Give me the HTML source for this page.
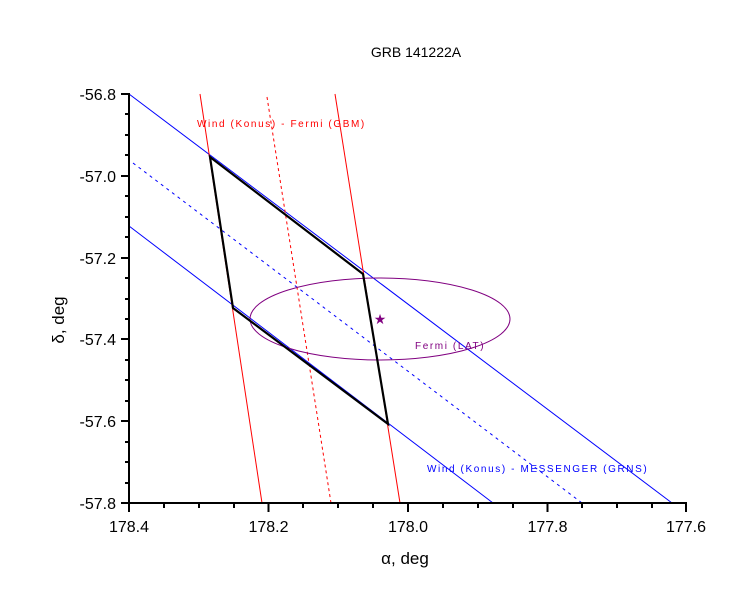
<!DOCTYPE html>
<html><head><meta charset="utf-8"><style>body{margin:0;background:#fff}svg{display:block}text{font-family:"Liberation Sans",sans-serif}</style></head><body>
<svg width="750" height="611" xmlns="http://www.w3.org/2000/svg">
<rect width="750" height="611" fill="#fff"/>
<text x="416" y="57" font-size="14" text-anchor="middle">GRB 141222A</text>
<g fill="none" stroke-width="1">
<line x1="129" y1="94" x2="672" y2="503" stroke="#0000ff"/>
<line x1="129" y1="226" x2="493" y2="503" stroke="#0000ff"/>
<line x1="133" y1="163" x2="582" y2="503" stroke="#0000ff" stroke-dasharray="3,4"/>
<line x1="200" y1="94" x2="262" y2="503" stroke="#ff0000"/>
<line x1="267" y1="97" x2="331" y2="503" stroke="#ff0000" stroke-dasharray="3,3"/>
<line x1="335" y1="94" x2="400" y2="503" stroke="#ff0000"/>
<ellipse cx="380" cy="319" rx="130" ry="41" stroke="#800080"/>
<polygon points="210,157 363,274 388,424 233,308" stroke="#000" stroke-width="2.2"/>
</g>
<text x="380" y="324" font-size="14" fill="#800080" text-anchor="middle">★</text>
<text x="197" y="127" font-size="10" fill="#ff0000" letter-spacing="1.6">Wind (Konus) - Fermi (GBM)</text>
<text x="415" y="349" font-size="10" fill="#800080" letter-spacing="1.6">Fermi (LAT)</text>
<text x="427" y="472" font-size="10" fill="#0000ff" letter-spacing="1.6">Wind (Konus) - MESSENGER (GRNS)</text>
<g stroke="#000" stroke-width="2">
<line x1="129" y1="93" x2="129" y2="504"/>
<line x1="128" y1="503" x2="687" y2="503"/>
</g>
<g stroke="#000" stroke-width="2">
<line x1="121" y1="94" x2="129" y2="94"/><line x1="121" y1="176" x2="129" y2="176"/><line x1="121" y1="258" x2="129" y2="258"/><line x1="121" y1="339" x2="129" y2="339"/><line x1="121" y1="421" x2="129" y2="421"/><line x1="121" y1="503" x2="129" y2="503"/>
<line x1="125" y1="114" x2="129" y2="114"/><line x1="125" y1="135" x2="129" y2="135"/><line x1="125" y1="155" x2="129" y2="155"/>
<line x1="125" y1="196" x2="129" y2="196"/><line x1="125" y1="217" x2="129" y2="217"/><line x1="125" y1="237" x2="129" y2="237"/>
<line x1="125" y1="278" x2="129" y2="278"/><line x1="125" y1="299" x2="129" y2="299"/><line x1="125" y1="319" x2="129" y2="319"/>
<line x1="125" y1="360" x2="129" y2="360"/><line x1="125" y1="380" x2="129" y2="380"/><line x1="125" y1="401" x2="129" y2="401"/>
<line x1="125" y1="442" x2="129" y2="442"/><line x1="125" y1="462" x2="129" y2="462"/><line x1="125" y1="483" x2="129" y2="483"/>
<line x1="129" y1="503" x2="129" y2="512"/><line x1="268.5" y1="503" x2="268.5" y2="512"/><line x1="408" y1="503" x2="408" y2="512"/><line x1="547.5" y1="503" x2="547.5" y2="512"/><line x1="686" y1="503" x2="686" y2="512"/>
<line x1="164" y1="503" x2="164" y2="508"/><line x1="199" y1="503" x2="199" y2="508"/><line x1="234" y1="503" x2="234" y2="508"/>
<line x1="303" y1="503" x2="303" y2="508"/><line x1="338" y1="503" x2="338" y2="508"/><line x1="373" y1="503" x2="373" y2="508"/>
<line x1="443" y1="503" x2="443" y2="508"/><line x1="478" y1="503" x2="478" y2="508"/><line x1="513" y1="503" x2="513" y2="508"/>
<line x1="582" y1="503" x2="582" y2="508"/><line x1="617" y1="503" x2="617" y2="508"/><line x1="652" y1="503" x2="652" y2="508"/>
</g>
<g font-size="16" text-anchor="end">
<text x="116" y="100">-56.8</text><text x="116" y="182">-57.0</text><text x="116" y="264">-57.2</text><text x="116" y="345">-57.4</text><text x="116" y="427">-57.6</text><text x="116" y="509">-57.8</text>
</g>
<g font-size="16" text-anchor="middle">
<text x="129" y="532">178.4</text><text x="268.5" y="532">178.2</text><text x="408" y="532">178.0</text><text x="547.5" y="532">177.8</text><text x="686" y="532">177.6</text>
</g>
<text x="405" y="564" font-size="17" text-anchor="middle">α, deg</text>
<text transform="translate(64,320) rotate(-90)" font-size="17" text-anchor="middle">δ, deg</text>
</svg>
</body></html>
